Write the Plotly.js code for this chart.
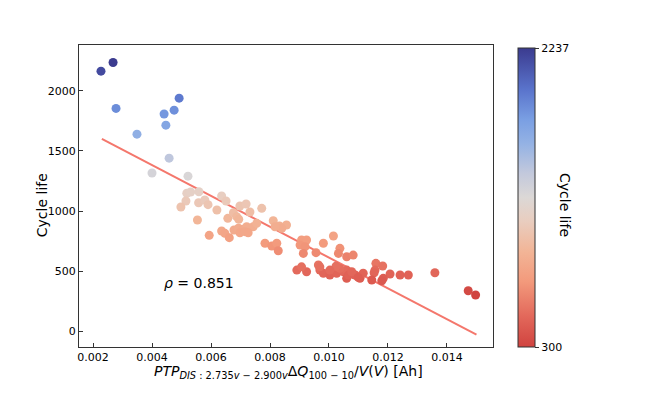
<!DOCTYPE html>
<html>
<head>
<meta charset="utf-8">
<script src="https://cdn.plot.ly/plotly-3.0.1.min.js"></script>
<style>
  html, body { margin: 0; padding: 0; background: #fff; }
  #plot { width: 664px; height: 399px; }
</style>
</head>
<body>
<div id="plot"></div>
<script>
// feature value per cell (PTP of dQ curve, Ah)
const featureX = [
  0.00227, 0.00268, 0.00278, 0.00349, 0.00441, 0.00447, 0.00475, 0.00492, 0.00458, 0.00400,
  0.00522, 0.00518, 0.00531, 0.00559, 0.00515, 0.00498, 0.00558, 0.00579, 0.00590, 0.00636,
  0.00620, 0.00651, 0.00554, 0.00657, 0.00676, 0.00698, 0.00719, 0.00687, 0.00694, 0.00594,
  0.00636, 0.00647, 0.00662, 0.00678, 0.00693, 0.00709, 0.00721, 0.00698, 0.00715, 0.00772,
  0.00732, 0.00811, 0.00832, 0.00856, 0.00840, 0.00817, 0.00743, 0.00755, 0.00726, 0.00783,
  0.00806, 0.00823, 0.00828, 0.00907, 0.00924, 0.00902, 0.00919, 0.00913, 0.00956, 0.00981,
  0.01015, 0.01037, 0.01032, 0.01060, 0.00891, 0.00924, 0.00964, 0.00969, 0.00981, 0.01003,
  0.01026, 0.01049, 0.01060, 0.01082, 0.01159, 0.01182, 0.01156, 0.01153, 0.01241, 0.01269,
  0.01207, 0.01184, 0.01179, 0.01359, 0.01472, 0.01497, 0.01060, 0.01088, 0.01105, 0.01116,
  0.01145, 0.00907, 0.00969, 0.01037, 0.01066, 0.01077, 0.01099, 0.01024, 0.01003
];
// observed cycle life per cell
const cycleLife = [
  2165, 2237, 1855, 1640, 1808, 1715, 1840, 1940, 1440, 1317,
  1290, 1148, 1158, 1160, 1083, 1033, 1069, 1092, 1053, 1125,
  1008, 1083, 925, 939, 986, 1042, 1058, 953, 931, 797,
  833, 814, 778, 842, 856, 847, 869, 819, 828, 1022,
  992, 919, 875, 883, 856, 869, 869, 897, 819, 731,
  708, 731, 669, 758, 758, 717, 703, 647, 653, 731,
  792, 689, 647, 619, 508, 494, 550, 508, 481, 467,
  481, 494, 508, 633, 564, 542, 508, 486, 467, 467,
  475, 439, 419, 486, 336, 300, 439, 467, 439, 481,
  425, 535, 535, 522, 467, 494, 447, 540, 508
];
// linear fit end points
const fitX = [0.0023, 0.0150];
const fitY = [1600, -30];
const rhoText = '<i>ρ</i> = 0.851';
const cbTicks = [300, 2237];

const lifeScale = [
  [0, '#d0433f'], [0.1, '#e2675a'], [0.22, '#f39a7c'], [0.32, '#f2b597'],
  [0.42, '#e9cdbf'], [0.5, '#dcd8d6'], [0.58, '#c3c9dc'], [0.68, '#94b2e4'],
  [0.76, '#7a9fe3'], [0.86, '#5a74cc'], [1, '#3b3b8f']
];

const font = 'DejaVu Sans, sans-serif';

const points = {
  x: featureX,
  y: cycleLife,
  mode: 'markers',
  type: 'scatter',
  marker: {
    size: 9,
    color: cycleLife,
    cmin: 300,
    cmax: 2237,
    colorscale: lifeScale,
    line: { width: 0 },
    colorbar: {
      x: 1.0604, xanchor: 'left', xpad: 0,
      y: 0, yanchor: 'bottom', ypad: 0,
      lenmode: 'pixels', len: 299,
      thickness: 17,
      outlinewidth: 1, outlinecolor: '#333',
      tickvals: cbTicks,
      ticktext: cbTicks.map(String),
      ticks: 'outside', ticklen: 4, tickcolor: '#333',
      tickfont: { family: font, size: 11, color: '#000' }
    }
  },
  hoverinfo: 'x+y'
};

const fit = {
  x: fitX,
  y: fitY,
  mode: 'lines',
  type: 'scatter',
  line: { color: '#f4776c', width: 2 },
  hoverinfo: 'skip'
};

const axisStyle = {
  showline: true, mirror: true, linecolor: '#333', linewidth: 1,
  ticks: 'inside', ticklen: 4, tickcolor: '#333',
  showgrid: false, zeroline: false,
  tickfont: { family: font, size: 11, color: '#000' }
};

const layout = {
  width: 664,
  height: 399,
  margin: { l: 79, r: 171, t: 45, b: 52 },
  paper_bgcolor: '#fff',
  plot_bgcolor: '#fff',
  showlegend: false,
  font: { family: font, color: '#000' },
  xaxis: Object.assign({}, axisStyle, {
    range: [0.001525, 0.01556],
    tickvals: [0.002, 0.004, 0.006, 0.008, 0.010, 0.012, 0.014],
    ticktext: ['0.002', '0.004', '0.006', '0.008', '0.010', '0.012', '0.014']
  }),
  yaxis: Object.assign({}, axisStyle, {
    range: [-133, 2383],
    tickvals: [0, 500, 1000, 1500, 2000]
  }),
  annotations: [
    {
      text: '<i>PTP</i><sub><i>DIS</i> : 2.735<i>v</i> − 2.900<i>v</i></sub>Δ<i>Q</i><sub>100 − 10</sub>/<i>V</i>(<i>V</i>) [Ah]',
      xref: 'paper', yref: 'paper', x: 0.507, y: -0.083,
      xanchor: 'center', yanchor: 'middle', showarrow: false,
      font: { family: font, size: 14, color: '#000' }
    },
    {
      text: 'Cycle life',
      xref: 'paper', yref: 'paper', x: -0.089, y: 0.47,
      xanchor: 'center', yanchor: 'middle', showarrow: false, textangle: -90,
      font: { family: font, size: 14, color: '#000' }
    },
    {
      text: 'Cycle life',
      xref: 'paper', yref: 'paper', x: 1.174, y: 0.47,
      xanchor: 'center', yanchor: 'middle', showarrow: false, textangle: 90,
      font: { family: font, size: 14, color: '#000' }
    },
    {
      text: rhoText,
      xref: 'x', yref: 'y', x: 0.00559, y: 400,
      xanchor: 'center', yanchor: 'middle', showarrow: false,
      font: { family: font, size: 14, color: '#000' }
    }
  ]
};

Plotly.newPlot('plot', [fit, points], layout, { displayModeBar: false, staticPlot: true });
</script>
</body>
</html>
